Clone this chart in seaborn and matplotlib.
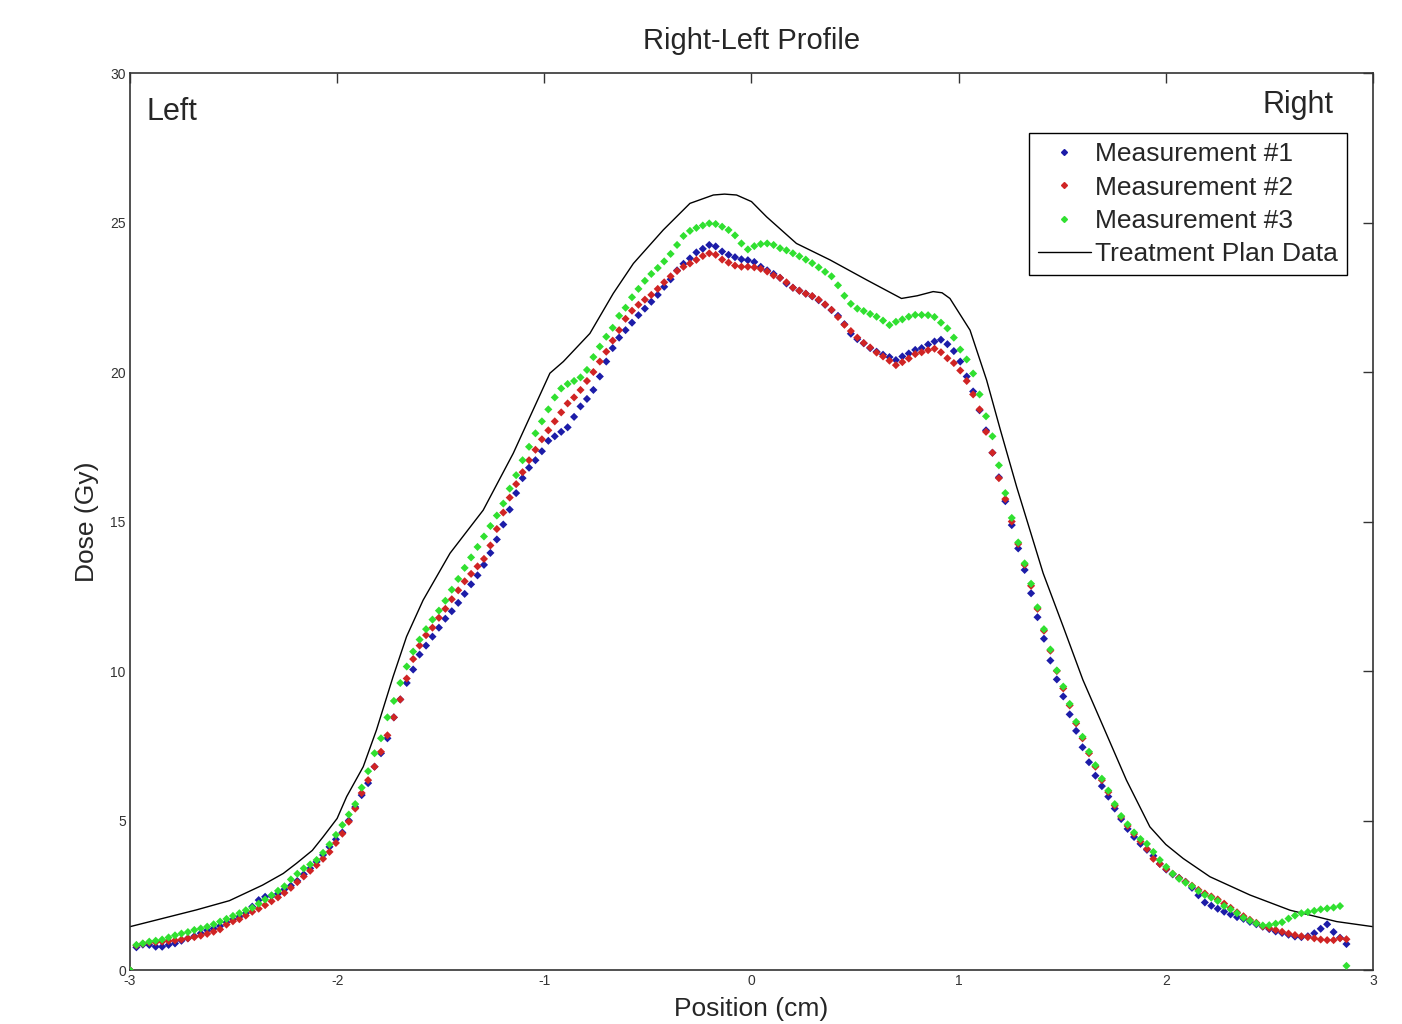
import numpy as np
import pandas as pd
import matplotlib
matplotlib.use("Agg")
import matplotlib.pyplot as plt
from matplotlib.lines import Line2D
import seaborn as sns

# detector positions (cm), 190 diodes from -3.0 to 2.872
position = np.linspace(-3.0, 2.872, 190)

meas1 = [
    0.00, 0.76, 0.85, 0.84, 0.78, 0.78, 0.84, 0.89, 0.98, 1.06,
    1.13, 1.23, 1.33, 1.39, 1.47, 1.60, 1.69, 1.78, 1.90, 2.12,
    2.34, 2.45, 2.48, 2.55, 2.70, 2.82, 2.98, 3.20, 3.40, 3.62,
    3.85, 4.12, 4.37, 4.60, 5.00, 5.45, 5.85, 6.25, 6.80, 7.25,
    7.75, 8.45, 9.05, 9.60, 10.05, 10.55, 10.85, 11.15, 11.45, 11.75,
    12.00, 12.28, 12.58, 12.90, 13.20, 13.55, 13.95, 14.40, 14.90, 15.40,
    15.95, 16.45, 16.80, 17.05, 17.35, 17.70, 17.85, 18.00, 18.15, 18.50,
    18.85, 19.10, 19.40, 19.85, 20.35, 20.80, 21.15, 21.40, 21.65, 21.90,
    22.12, 22.35, 22.58, 22.85, 23.10, 23.40, 23.62, 23.80, 24.00, 24.12,
    24.25, 24.20, 24.03, 23.92, 23.84, 23.77, 23.74, 23.68, 23.52, 23.40,
    23.28, 23.15, 22.96, 22.82, 22.72, 22.62, 22.53, 22.40, 22.25, 22.07,
    21.88, 21.60, 21.28, 21.10, 20.96, 20.80, 20.68, 20.58, 20.50, 20.40,
    20.52, 20.62, 20.74, 20.80, 20.92, 21.02, 21.08, 20.93, 20.70, 20.35,
    19.85, 19.35, 18.72, 18.05, 17.30, 16.48, 15.68, 14.88, 14.10, 13.38,
    12.60, 11.80, 11.08, 10.35, 9.72, 9.15, 8.55, 8.00, 7.45, 6.95,
    6.50, 6.15, 5.80, 5.40, 5.05, 4.72, 4.45, 4.22, 4.02, 3.82,
    3.55, 3.36, 3.20, 3.08, 2.95, 2.75, 2.50, 2.26, 2.15, 2.05,
    1.95, 1.86, 1.77, 1.71, 1.61, 1.53, 1.45, 1.37, 1.29, 1.24,
    1.18, 1.12, 1.10, 1.13, 1.23, 1.38, 1.53, 1.27, 1.08, 0.87,
]

meas2 = [
    0.00, 0.82, 0.88, 0.92, 0.93, 0.95, 0.97, 0.99, 1.02, 1.06,
    1.10, 1.15, 1.21, 1.28, 1.36, 1.52, 1.63, 1.70, 1.82, 1.95,
    2.05, 2.17, 2.30, 2.43, 2.58, 2.75, 2.94, 3.13, 3.32, 3.51,
    3.72, 3.95, 4.25, 4.56, 4.96, 5.40, 5.92, 6.35, 6.80, 7.30,
    7.85, 8.45, 9.05, 9.75, 10.40, 10.85, 11.20, 11.45, 11.78, 12.08,
    12.40, 12.70, 13.00, 13.25, 13.50, 13.75, 14.20, 14.75, 15.30, 15.80,
    16.25, 16.65, 17.05, 17.40, 17.75, 18.05, 18.35, 18.65, 18.95, 19.15,
    19.40, 19.70, 20.00, 20.35, 20.68, 21.05, 21.40, 21.78, 22.05, 22.25,
    22.42, 22.58, 22.78, 23.00, 23.20, 23.38, 23.52, 23.63, 23.75, 23.88,
    23.97, 23.92, 23.76, 23.66, 23.56, 23.52, 23.52, 23.50, 23.45, 23.36,
    23.23, 23.15, 23.00, 22.82, 22.72, 22.62, 22.54, 22.42, 22.26, 22.08,
    21.84, 21.58, 21.37, 21.15, 20.97, 20.82, 20.65, 20.52, 20.38, 20.23,
    20.33, 20.45, 20.60, 20.66, 20.73, 20.78, 20.66, 20.46, 20.30, 20.05,
    19.70, 19.25, 18.75, 18.00, 17.30, 16.45, 15.75, 15.00, 14.25, 13.55,
    12.85, 12.08, 11.35, 10.68, 10.00, 9.42, 8.85, 8.25, 7.75, 7.25,
    6.80, 6.35, 5.95, 5.50, 5.12, 4.82, 4.55, 4.30, 4.05, 3.72,
    3.55, 3.38, 3.22, 3.08, 2.95, 2.82, 2.68, 2.56, 2.46, 2.36,
    2.22, 2.08, 1.93, 1.80, 1.68, 1.58, 1.46, 1.40, 1.34, 1.28,
    1.22, 1.17, 1.13, 1.10, 1.06, 1.02, 1.00, 1.00, 1.06, 1.03,
]

meas3 = [
    0.00, 0.84, 0.89, 0.95, 0.98, 1.02, 1.09, 1.16, 1.22, 1.27,
    1.34, 1.39, 1.45, 1.53, 1.62, 1.71, 1.81, 1.90, 2.00, 2.08,
    2.22, 2.36, 2.50, 2.65, 2.80, 3.03, 3.22, 3.40, 3.53, 3.68,
    3.92, 4.20, 4.52, 4.85, 5.20, 5.55, 6.10, 6.65, 7.25, 7.75,
    8.45, 9.00, 9.60, 10.15, 10.65, 11.05, 11.40, 11.72, 12.02, 12.35,
    12.72, 13.08, 13.45, 13.80, 14.15, 14.50, 14.85, 15.20, 15.60, 16.10,
    16.55, 17.05, 17.50, 17.95, 18.35, 18.75, 19.15, 19.45, 19.60, 19.70,
    19.82, 20.07, 20.50, 20.85, 21.18, 21.48, 21.88, 22.15, 22.50, 22.78,
    23.05, 23.28, 23.48, 23.70, 23.95, 24.25, 24.55, 24.72, 24.82, 24.90,
    24.97, 24.95, 24.86, 24.75, 24.57, 24.30, 24.10, 24.21, 24.28, 24.30,
    24.25, 24.14, 24.07, 23.97, 23.87, 23.76, 23.64, 23.50, 23.35, 23.20,
    22.90, 22.55, 22.28, 22.12, 22.04, 21.94, 21.85, 21.72, 21.57, 21.68,
    21.76, 21.85, 21.91, 21.91, 21.90, 21.84, 21.65, 21.46, 21.15, 20.75,
    20.42, 19.95, 19.25, 18.52, 17.85, 16.88, 15.95, 15.12, 14.30, 13.60,
    12.92, 12.13, 11.40, 10.72, 10.02, 9.48, 8.90, 8.30, 7.80, 7.30,
    6.85, 6.40, 6.00, 5.55, 5.15, 4.87, 4.60, 4.38, 4.22, 3.95,
    3.68, 3.45, 3.22, 3.05, 2.92, 2.80, 2.64, 2.51, 2.42, 2.31,
    2.14, 2.03, 1.90, 1.75, 1.65, 1.56, 1.49, 1.50, 1.55, 1.60,
    1.72, 1.82, 1.90, 1.94, 1.98, 2.03, 2.06, 2.09, 2.14, 0.14,
]

# treatment plan profile
plan_x = [-3.0, -2.84, -2.68, -2.52, -2.36, -2.26, -2.196, -2.12, -2.067, -2.0,
          -1.954, -1.874, -1.81, -1.73, -1.665, -1.585, -1.455, -1.295, -1.15, -0.973,
          -0.908, -0.78, -0.667, -0.57, -0.426, -0.297, -0.184, -0.13, -0.072, 0.0,
          0.073, 0.217, 0.379, 0.556, 0.724, 0.80, 0.877, 0.92, 0.958, 1.055,
          1.135, 1.2, 1.28, 1.408, 1.505, 1.6, 1.698, 1.81, 1.923, 2.0,
          2.084, 2.213, 2.406, 2.6, 2.825, 3.0]
plan_y = [1.45, 1.73, 2.01, 2.32, 2.84, 3.23, 3.57, 4.0, 4.46, 5.07,
          5.80, 6.80, 8.03, 9.81, 11.15, 12.37, 13.94, 15.38, 17.28, 19.96,
          20.35, 21.29, 22.63, 23.63, 24.75, 25.64, 25.92, 25.95, 25.92, 25.70,
          25.19, 24.30, 23.75, 23.08, 22.46, 22.55, 22.69, 22.65, 22.46, 21.40,
          19.73, 18.10, 16.16, 13.27, 11.48, 9.70, 8.14, 6.35, 4.79, 4.20,
          3.73, 3.12, 2.51, 2.00, 1.62, 1.45]

names = ["Measurement #1", "Measurement #2", "Measurement #3"]
colors = ["#1c1ca8", "#d02424", "#30e030"]

df = pd.concat([
    pd.DataFrame({"Position": position, "Dose": vals, "Series": name})
    for name, vals in zip(names, [meas1, meas2, meas3])
], ignore_index=True)
plan = pd.DataFrame({"Position": plan_x, "Dose": plan_y})

sns.set_style("white")
plt.rcParams["font.family"] = ["Liberation Sans", "DejaVu Sans"]
plt.rcParams["axes.unicode_minus"] = False

fig = plt.figure(figsize=(14.02, 10.24), dpi=100)
ax = fig.add_axes([0.0927, 0.0527, 0.8866, 0.876])

sns.lineplot(data=plan, x="Position", y="Dose", color="black", linewidth=1.0,
             ax=ax, zorder=2, sort=False)
sns.scatterplot(data=df, x="Position", y="Dose", hue="Series", palette=colors,
                marker="D", s=17, linewidth=0, legend=False, ax=ax, zorder=3)

ax.set_xlim(-3, 3)
ax.set_ylim(0, 30)
ax.set_xticks(range(-3, 4))
ax.set_yticks(range(0, 31, 5))
ax.tick_params(direction="in", length=7, width=1, top=True, right=True,
               labelsize=10, labelcolor="#333333", color="#333333", pad=3)
for s in ax.spines.values():
    s.set_color("#333333")
    s.set_linewidth(1.2)

ax.set_title("Right-Left Profile", fontsize=21, pad=17)
ax.set_xlabel("Position (cm)", fontsize=19, labelpad=6)
ax.set_ylabel("Dose (Gy)", fontsize=19, labelpad=8)

ax.text(0.0137, 0.957, "Left", transform=ax.transAxes, fontsize=22, va="center", ha="left")
ax.text(0.9686, 0.964, "Right", transform=ax.transAxes, fontsize=22, va="center", ha="right")

# legend: small dots for measurements, a line for the plan
handles = [Line2D([], [], marker="D", ls="", color=c, markersize=3) for c in colors]
handles.append(Line2D([], [], color="black", lw=1))
leg = ax.legend(handles, names + ["Treatment Plan Data"], loc="upper right",
                bbox_to_anchor=(0.979, 0.933), borderaxespad=0, fontsize=19,
                fancybox=False, edgecolor="black", framealpha=1,
                handlelength=2.0, handletextpad=0.15, labelspacing=0.35,
                borderpad=0.35)
leg.get_frame().set_linewidth(1.0)

fig.savefig("out.png", dpi=100)
